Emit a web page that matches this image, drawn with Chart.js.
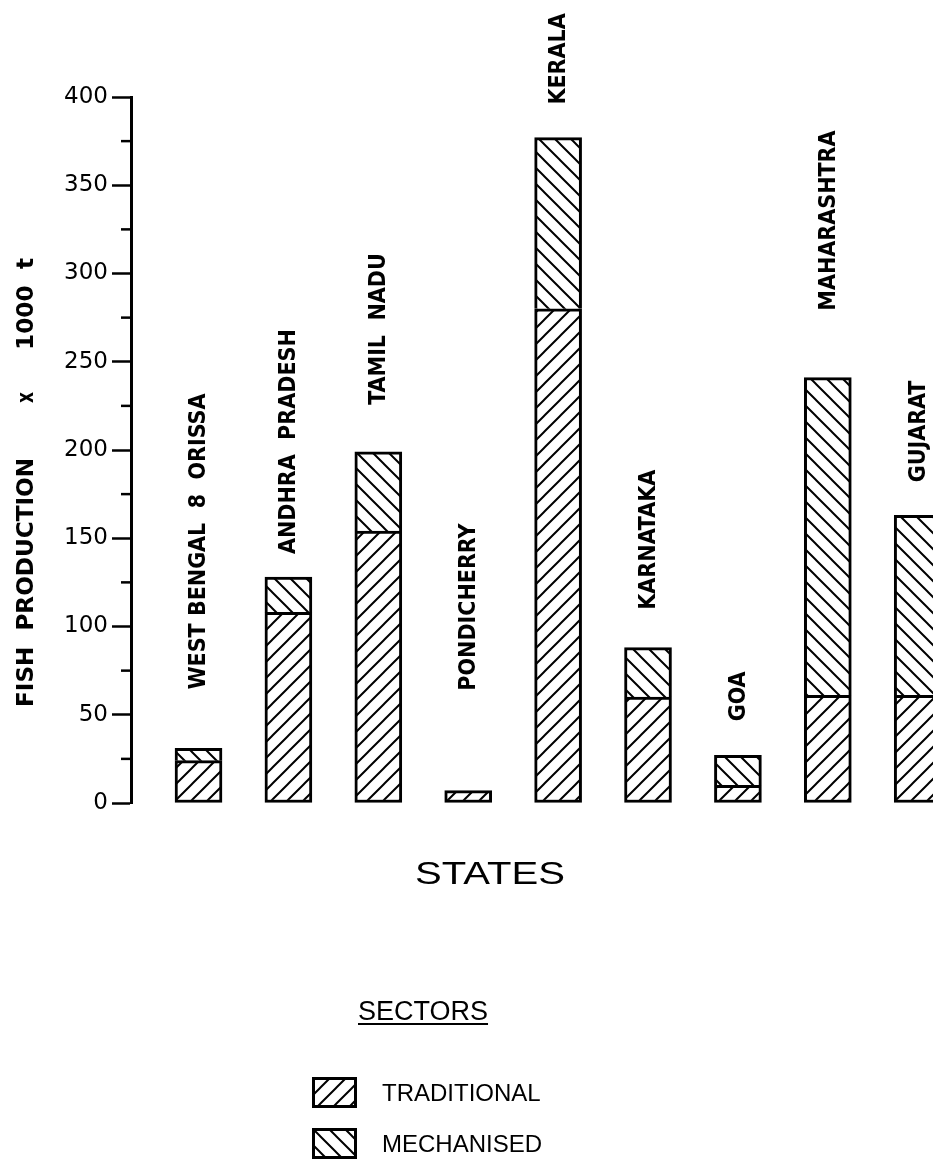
<!DOCTYPE html>
<html lang="en">
<head>
<meta charset="UTF-8">
<title>Fish production by state</title>
<style>
  body { margin: 0; background: #fff; }
  .chart-box { width: 933px; height: 1164px; }
</style>
</head>
<body>
<div class="chart-box"><canvas id="fishChart"></canvas></div>
<script src="https://cdn.jsdelivr.net/npm/chart.js"></script>
<script>
// values, x 1000 t
const states = ['WEST BENGAL  8  ORISSA', 'ANDHRA  PRADESH', 'TAMIL  NADU', 'PONDICHERRY', 'KERALA',
                'KARNATAKA', 'GOA', 'MAHARASHTRA', 'GUJARAT'];
const traditional = [24, 108, 154, 7, 280, 60, 10, 61, 61];
const mechanised = [7, 20, 45, 0, 97, 28, 17, 180, 102];
const sectors = ['TRADITIONAL', 'MECHANISED'];
const yMax = 400;
const yMajor = 50;
const yMinor = 25;

// diagonal hatch tile, dir 1 = "/", -1 = "\"
function hatch(dir) {
  const s = 16;
  const c = document.createElement('canvas');
  c.width = c.height = s;
  const g = c.getContext('2d');
  g.fillStyle = '#fff';
  g.fillRect(0, 0, s, s);
  g.strokeStyle = '#000';
  g.lineWidth = 2;
  g.beginPath();
  if (dir > 0) {
    g.moveTo(-2, 2); g.lineTo(2, -2);
    g.moveTo(0, s); g.lineTo(s, 0);
    g.moveTo(s - 2, s + 2); g.lineTo(s + 2, s - 2);
  } else {
    g.moveTo(0, 0); g.lineTo(s, s);
    g.moveTo(-2, s - 2); g.lineTo(2, s + 2);
    g.moveTo(s - 2, -2); g.lineTo(s + 2, 2);
  }
  g.stroke();
  return g.createPattern(c, 'repeat');
}

const tradFill = hatch(1);
const mechFill = hatch(-1);

// fit a string into a given length along the current x direction
function fitText(ctx, text, x, y, len) {
  const w = ctx.measureText(text).width;
  ctx.save();
  ctx.translate(x, y);
  ctx.scale(len / w, 1);
  ctx.fillText(text, 0, 0);
  ctx.restore();
}

const decorations = {
  id: 'decorations',
  afterDraw(chart, args, opts) {
    const ctx = chart.ctx;
    const xs = chart.scales.x;
    const ys = chart.scales.y;
    ctx.save();
    ctx.fillStyle = '#000';
    ctx.strokeStyle = '#000';

    // minor ticks on the y axis
    ctx.lineWidth = 2.5;
    ys.ticks.forEach(t => {
      if (t.value % yMajor !== 0) {
        const py = ys.getPixelForValue(t.value);
        ctx.beginPath();
        ctx.moveTo(chart.chartArea.left - 10, py);
        ctx.lineTo(chart.chartArea.left, py);
        ctx.stroke();
      }
    });

    // state names, rotated, above each bar
    ctx.font = "bold 23px 'DejaVu Sans Condensed', 'DejaVu Sans', sans-serif";
    ctx.textAlign = 'left';
    ctx.textBaseline = 'middle';
    states.forEach((name, i) => {
      const px = xs.getPixelForValue(i) + 1;
      const top = ys.getPixelForValue(traditional[i] + mechanised[i]);
      ctx.save();
      ctx.translate(px, top - opts.labelGap[i]);
      ctx.rotate(-Math.PI / 2);
      ctx.fillText(name, 0, 0);
      ctx.restore();
    });

    // y axis title
    ctx.textBaseline = 'alphabetic';
    ctx.save();
    ctx.translate(33, 0);
    ctx.rotate(-Math.PI / 2);
    fitText(ctx, 'FISH  PRODUCTION', -707, 0, 249);
    fitText(ctx, 'x', -403, 0, 11);
    fitText(ctx, '1000  t', -350, 0, 92);
    ctx.restore();

    // x axis title
    ctx.font = "31px 'Liberation Sans', Arial, sans-serif";
    fitText(ctx, 'STATES', 415, 884, 150);

    // legend
    ctx.font = "27px 'Liberation Sans', Arial, sans-serif";
    ctx.fillText('SECTORS', 358, 1020);
    ctx.lineWidth = 2;
    ctx.beginPath();
    ctx.moveTo(358, 1024);
    ctx.lineTo(358 + ctx.measureText('SECTORS').width, 1024);
    ctx.stroke();

    ctx.font = "24px 'Liberation Sans', Arial, sans-serif";
    ctx.textBaseline = 'middle';
    const fills = [tradFill, mechFill];
    const rows = [1077, 1128];
    sectors.forEach((name, k) => {
      ctx.fillStyle = fills[k];
      ctx.fillRect(312, rows[k], 45, 31);
      ctx.lineWidth = 3;
      ctx.strokeRect(313.5, rows[k] + 1.5, 42, 28);
      ctx.fillStyle = '#000';
      ctx.fillText(name, 382, rows[k] + 17);
    });
    ctx.restore();
  }
};

const ctx = document.getElementById('fishChart').getContext('2d');

const barStyle = {
  borderColor: '#000',
  borderWidth: 3,
  grouped: false,
  barThickness: 47
};

new Chart(ctx, {
  type: 'bar',
  data: {
    datasets: [{
      ...barStyle,
      label: sectors[0],
      data: traditional.map((v, i) => ({ x: i, y: v })),
      backgroundColor: tradFill,
      borderSkipped: false
    }, {
      ...barStyle,
      label: sectors[1],
      data: mechanised.map((v, i) => ({ x: i, y: v })),
      backgroundColor: mechFill,
      borderSkipped: 'start'
    }]
  },
  options: {
    responsive: true,
    maintainAspectRatio: false,
    animation: false,
    layout: { padding: { top: 97, bottom: 361, left: 0, right: 0 } },
    scales: {
      x: {
        type: 'linear',
        min: -0.751,
        max: 8.17,
        offset: false,
        display: false
      },
      y: {
        stacked: true,
        min: 0,
        max: yMax,
        afterFit: s => { s.width = 131; },
        border: { color: '#000', width: 3 },
        grid: {
          drawOnChartArea: false,
          tickLength: 19,
          tickWidth: 2.5,
          tickColor: c => (c.tick && c.tick.value % yMajor === 0) ? '#000' : 'rgba(0,0,0,0)'
        },
        ticks: {
          stepSize: yMinor,
          padding: 4,
          color: '#000',
          font: { family: "'DejaVu Sans', sans-serif", size: 23 },
          callback: v => (v % yMajor === 0 ? v : '')
        }
      }
    },
    plugins: {
      legend: { display: false },
      tooltip: { enabled: false },
      decorations: { labelGap: [59, 23, 47, 100, 33, 38, 34, 67, 33] }
    }
  },
  plugins: [decorations]
});
</script>
</body>
</html>
